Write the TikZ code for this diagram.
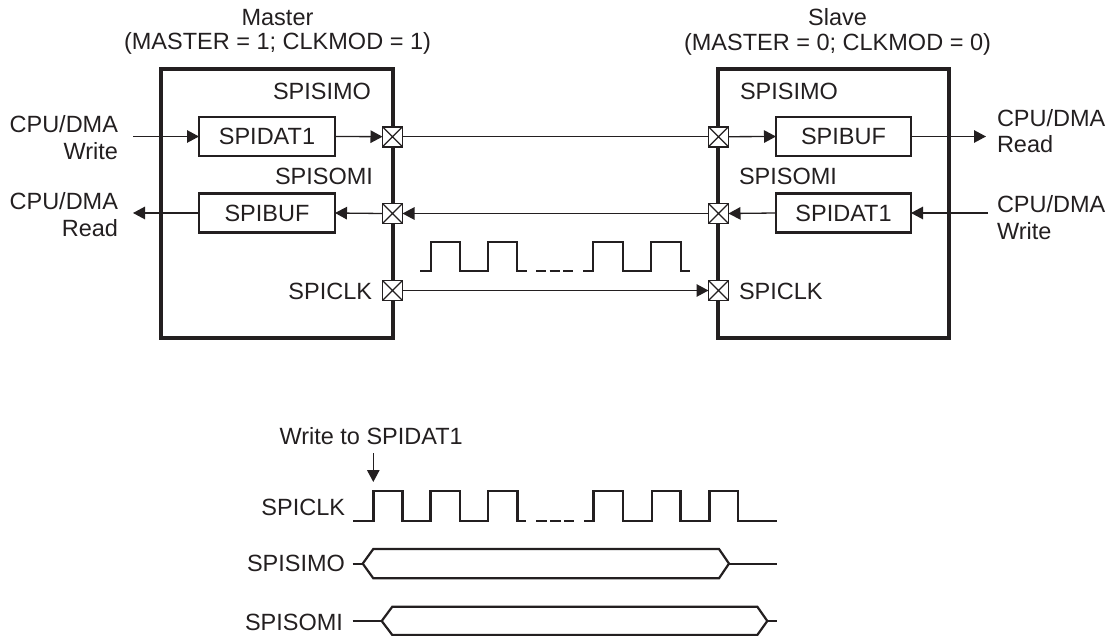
\documentclass[tikz,border=0pt]{standalone}
\usepackage{fontspec}
\setmainfont{Liberation Sans}
\usetikzlibrary{arrows.meta}
\definecolor{ink}{RGB}{35,31,32}
\begin{document}
\begin{tikzpicture}[x=1pt,y=-1pt,
  every node/.style={inner sep=0pt, outer sep=0pt, text=ink, font=\fontsize{23.5}{28}\selectfont},
  chip/.style={draw=ink, line width=3.3pt},
  reg/.style={draw=ink, line width=2.2pt, minimum width=136pt, minimum height=39pt, fill=white},
  pin/.style={draw=ink, fill=white, line width=1.8pt, minimum size=20pt,
    path picture={\draw[ink,line width=1.2pt] (path picture bounding box.north west) -- (path picture bounding box.south east)
      (path picture bounding box.north east) -- (path picture bounding box.south west);}},
  wire/.style={draw=ink, line width=1.3pt},
  arr/.style={wire, -{Triangle[length=12pt,width=12.5pt]}},
  wave/.style={draw=ink, line width=2.4pt, line join=miter},
  bus/.style={draw=ink, line width=2.2pt, line join=miter}
]
\useasboundingbox (0,0) rectangle (1112,636);

% titles
\node[anchor=base] (mt1) at (277.5,25.5) {Master};
\node[anchor=base] (mt2) at (277.5,50) {(MASTER = 1; CLKMOD = 1)};
\node[anchor=base] (st1) at (837.5,26) {Slave};
\node[anchor=base] (st2) at (837.5,50.5) {(MASTER = 0; CLKMOD = 0)};

% chips
\node[chip, minimum width=232pt, minimum height=269pt] (master) at (277,203.5) {};
\node[chip, minimum width=231pt, minimum height=269pt] (slave) at (833.5,203.5) {};

% pin labels
\node[anchor=base east] (mlsimo) at (371,100) {SPISIMO};
\node[anchor=base east] (mlsomi) at (373,185) {SPISOMI};
\node[anchor=base east] (mlclk) at (372,300) {SPICLK};
\node[anchor=base west] (slsimo) at (740,100) {SPISIMO};
\node[anchor=base west] (slsomi) at (739,185) {SPISOMI};
\node[anchor=base west] (slclk) at (739,300) {SPICLK};

% registers
\node[reg] (mdat) at (267,136.5) {SPIDAT1};
\node[reg] (mbuf) at (267,213) {SPIBUF};
\node[reg, minimum width=135pt] (sbuf) at (843.5,136.5) {SPIBUF};
\node[reg, minimum width=135pt] (sdat) at (843.5,213) {SPIDAT1};

% pins
\node[pin] (mp1) at (392.5,136.7) {};
\node[pin] (mp2) at (392.5,213.5) {};
\node[pin] (mp3) at (392.5,290.5) {};
\node[pin] (sp1) at (718.5,136.7) {};
\node[pin] (sp2) at (718.5,213.5) {};
\node[pin] (sp3) at (718.5,290.5) {};

% external labels
\node[anchor=base east] (lw1) at (118,133) {CPU/DMA};
\node[anchor=base east] (lw2) at (118,159.5) {Write};
\node[anchor=base east] (lr1) at (118,210) {CPU/DMA};
\node[anchor=base east] (lr2) at (118,236.5) {Read};
\node[anchor=base west] (rr1) at (997,126.5) {CPU/DMA};
\node[anchor=base west] (rr2) at (997,153) {Read};
\node[anchor=base west] (rw1) at (997,213) {CPU/DMA};
\node[anchor=base west] (rw2) at (997,239.5) {Write};

\coordinate (lw) at (133,136.5);
\coordinate (lr) at (133,213);
\coordinate (rr) at (986,136.5);
\coordinate (rw) at (988,213);

% connectors
\draw[arr] (lw) -- (mdat.west);
\draw[arr] (mdat.east) -- (mp1.west);
\draw[wire] (mp1.east) -- (sp1.west);
\draw[arr] (sp1.east) -- (sbuf.west);
\draw[arr] (sbuf.east) -- (rr);
\draw[arr] (rw) -- (sdat.east);
\draw[arr] (sdat.west) -- (sp2.east);
\draw[arr] (sp2.west) -- (mp2.east);
\draw[arr] (mp2.west) -- (mbuf.east);
\draw[arr] (mbuf.west) -- (lr);
\draw[arr] (mp3.east) -- (sp3.west);

% clock between chips
\draw[wave] (420,271) -- (431,271) -- (431,242) -- (460,242) -- (460,271) -- (488,271) -- (488,242) -- (517,242) -- (517,271) -- (527,271);
\draw[wave] (536,271) -- (546,271) (549.5,271) -- (559.5,271) (563,271) -- (573,271);
\draw[wave] (583,271) -- (593,271) -- (593,242) -- (623,242) -- (623,271) -- (651,271) -- (651,242) -- (681,242) -- (681,271) -- (690,271);

% timing diagram
\node[anchor=base west] (wlab) at (279.5,445) {Write to SPIDAT1};
\coordinate (wt) at (373.3,453);
\coordinate (wb) at (373.3,482);
\draw[arr] (wt) -- (wb);

\node[anchor=base east] (tclk) at (345,515) {SPICLK};
\node[anchor=base east] (tsimo) at (345,571.5) {SPISIMO};
\node[anchor=base east] (tsomi) at (343,630) {SPISOMI};

\draw[wave] (353,520.7) -- (373.3,520.7) -- (373.3,491) -- (402.3,491) -- (402.3,520.7) -- (430.5,520.7) -- (430.5,491) -- (460,491) -- (460,520.7) -- (488,520.7) -- (488,491) -- (517.3,491) -- (517.3,520.7) -- (526,520.7);
\draw[wave] (536,520.7) -- (546.5,520.7) (550,520.7) -- (560.5,520.7) (564,520.7) -- (574,520.7);
\draw[wave] (584,520.7) -- (593.5,520.7) -- (593.5,491) -- (623,491) -- (623,520.7) -- (652,520.7) -- (652,491) -- (680.5,491) -- (680.5,520.7) -- (709.3,520.7) -- (709.3,491) -- (738,491) -- (738,520.7) -- (777,520.7);

% SPISIMO bus
\draw[bus] (352.7,563.6) -- (362.7,563.6);
\draw[bus] (373.3,549) -- (362.7,563.6) -- (373.3,578.3) -- (719,578.3) -- (729,563.6) -- (719,549) -- cycle;
\draw[bus] (729,563.6) -- (776.7,563.6);

% SPISOMI bus
\draw[bus] (352.7,621) -- (381.7,621);
\draw[bus] (392.3,606.7) -- (381.7,621) -- (392.3,635) -- (757.3,635) -- (767.3,621) -- (757.3,606.7) -- cycle;
\draw[bus] (767.3,621) -- (776.7,621);
\end{tikzpicture}
\end{document}
